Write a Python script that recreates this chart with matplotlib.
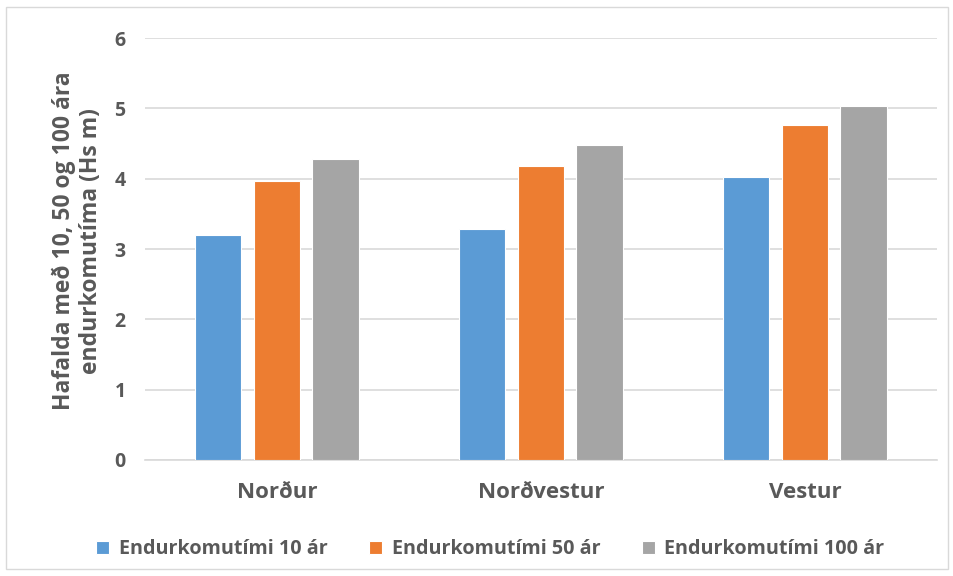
import matplotlib.pyplot as plt
import numpy as np
from matplotlib.patches import Rectangle

# chart data
regions = ['Norður', 'Norðvestur', 'Vestur']
series = ['Endurkomutími 10 ár', 'Endurkomutími 50 ár', 'Endurkomutími 100 ár']
ar10 = [3.20, 3.28, 4.02]
ar50 = [3.97, 4.18, 4.76]
ar100 = [4.28, 4.48, 5.03]
colors = ['#5B9BD5', '#ED7D31', '#A5A5A5']
txt = '#595959'

plt.rcParams['font.family'] = ['Open Sans', 'DejaVu Sans']
plt.rcParams['font.weight'] = 'bold'

fig = plt.figure(figsize=(9.54, 5.76), dpi=100)
ax = fig.add_axes([0.152, 0.2014, 0.830, 0.7326])

x = np.arange(len(regions))
width = 0.175
step = 0.222
for i, vals in enumerate([ar10, ar50, ar100]):
    ax.bar(x + (i - 1) * step, vals, width, color=colors[i], label=series[i],
           edgecolor='white', linewidth=0.8, zorder=3)

ax.set_xlim(-0.5, 2.5)
ax.set_ylim(0, 6)
ax.set_yticks(range(0, 7))
ax.set_xticks(x)
ax.set_xticklabels(regions)
ax.grid(axis='y', color='#D9D9D9', linewidth=1.2, zorder=0)
for s in ['top', 'right', 'left']:
    ax.spines[s].set_visible(False)
ax.spines['bottom'].set_color('#D9D9D9')
ax.spines['bottom'].set_linewidth(1.2)
ax.tick_params(axis='both', length=0, colors=txt)
ax.tick_params(axis='y', pad=14, labelsize=14)
ax.tick_params(axis='x', pad=16, labelsize=16)
for lbl in ax.get_xticklabels() + ax.get_yticklabels():
    lbl.set_fontweight('bold')

ax.set_ylabel('Hafalda með 10, 50 og 100 ára\nendurkomutíma (Hs m)', fontsize=16.5,
              color=txt, fontweight='bold', labelpad=8, linespacing=1.2, y=0.52)

fig.legend(loc='lower center', bbox_to_anchor=(0.514, -0.002), ncol=3, frameon=False,
           fontsize=14.2, handlelength=0.65, handleheight=0.65, handletextpad=0.5,
           columnspacing=2.1, labelcolor=txt)

# outer chart border
fig.patches.append(Rectangle((0.006, 0.012), 0.988, 0.975, transform=fig.transFigure,
                             fill=False, edgecolor='#D9D9D9', linewidth=1))

plt.savefig('out.png')
plt.close()
